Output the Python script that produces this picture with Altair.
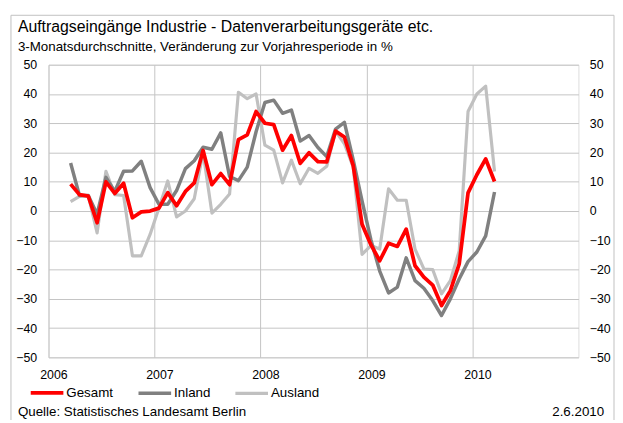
import altair as alt
import pandas as pd

FONT = "Liberation Sans"

TITLE = "Auftragseingänge Industrie - Datenverarbeitungsgeräte etc."
SUBTITLE = "3-Monatsdurchschnitte, Veränderung zur Vorjahresperiode in %"
SOURCE = "Quelle: Statistisches Landesamt Berlin"
DATE = "2.6.2010"

series_names = ["Gesamt", "Inland", "Ausland"]
series_colors = ["#ff0000", "#808080", "#c0c0c0"]
series_widths = [3.8, 3.2, 3.2]

year_ticks = [2006, 2007, 2008, 2009, 2010]
y_ticks = [-50, -40, -30, -20, -10, 0, 10, 20, 30, 40, 50]

# monthly observations Mar 2006 .. Mar 2010
months = [(y, m) for y in range(2006, 2011) for m in range(1, 13)
          if (2006, 3) <= (y, m) <= (2010, 3)]

gesamt = [9.2, 5.6, 5.1, -4.0, 10.0, 6.0, 9.5, -2.3, -0.3, 0.0,
          1.0, 6.3, 1.8, 6.7, 9.6, 20.7, 9.0, 12.8, 9.0, 24.4, 26.0, 34.0,
          30.0, 29.5, 20.8, 25.8, 16.3, 19.9, 16.9, 16.8, 27.3, 25.3, 15.5, -4.5,
          -11.5, -17.0, -11.0, -12.1, -6.2, -18.7, -22.6, -25.3, -32.3, -27.2, -18.1, 6.2,
          12.4, 17.8, 10.1]
inland = [16.4, 5.3, 5.3, -1.1, 11.5, 6.7, 13.6, 13.7, 17.0, 8.0,
          2.3, 2.3, 7.0, 14.5, 17.2, 21.8, 21.1, 26.7, 11.8, 10.4, 15.0, 27.1,
          37.1, 37.9, 33.4, 34.5, 23.9, 25.8, 21.7, 18.6, 28.0, 30.3, 17.5, 3.5,
          -9.8, -20.5, -28.0, -26.0, -16.0, -23.8, -26.4, -30.6, -35.7, -30.0, -23.2, -17.3,
          -14.0, -8.5, 6.5]
ausland = [3.2, 5.0, 5.3, -7.5, 13.6, 5.6, 5.3, -15.3, -15.3, -8.0,
           1.0, 10.3, -2.0, 0.0, 4.2, 20.0, -0.7, 2.3, 5.8, 40.6, 38.4, 40.0,
           22.5, 20.8, 9.6, 17.4, 9.3, 14.6, 12.9, 15.3, 27.3, 23.0, 15.0, -14.8,
           -11.8, -13.0, 7.6, 3.7, 3.7, -13.0, -19.8, -20.0, -28.3, -23.8, -13.6, 34.0,
           40.0, 42.7, 13.5]

rows = []
# drawing order: Ausland, Inland, Gesamt (Gesamt on top)
for name, vals in [("Ausland", ausland), ("Inland", inland), ("Gesamt", gesamt)]:
    for (y, m), v in zip(months, vals):
        rows.append({"t": y + (m - 0.5) / 12.0, "v": v, "series": name})
df = pd.DataFrame(rows)

xscale = alt.Scale(domain=[2006, 2011], nice=False, zero=False)
yscale = alt.Scale(domain=[-50, 50], nice=False, zero=False)

x_axis = alt.Axis(values=year_ticks, format="d", title=None, grid=True,
                  ticks=False, domain=False, labelOffset=5, labelPadding=11,
                  labelFlush=False, labelOverlap=False,
                  labelFontSize=12.5, labelFont=FONT, labelColor="#000000",
                  gridColor="#c4c4c4", gridWidth=1)

lines = alt.Chart(df).mark_line(strokeJoin="round", strokeCap="butt").encode(
    x=alt.X("t:Q", scale=xscale, axis=x_axis),
    y=alt.Y("v:Q", scale=yscale,
            axis=alt.Axis(values=y_ticks, title=None, orient="left", grid=True,
                          ticks=False, domain=False, labelPadding=12,
                          labelFlush=False,
                          labelFontSize=12.5, labelFont=FONT, labelColor="#000000",
                          gridColor="#c4c4c4", gridWidth=1)),
    color=alt.Color("series:N",
                    scale=alt.Scale(domain=series_names, range=series_colors),
                    legend=alt.Legend(orient="none", legendX=-20, legendY=313,
                                      direction="horizontal", title=None,
                                      symbolType="stroke", symbolSize=1089,
                                      symbolStrokeWidth=3.5, labelFontSize=13.5,
                                      labelFont=FONT, labelColor="#000000",
                                      columnPadding=18, labelOffset=1, padding=0)),
    strokeWidth=alt.StrokeWidth("series:N",
                                scale=alt.Scale(domain=series_names, range=series_widths),
                                legend=None),
)

right_axis = alt.Chart(df).mark_point(opacity=0).encode(
    x=alt.X("t:Q", scale=xscale, axis=x_axis),
    y=alt.Y("v:Q", scale=yscale,
            axis=alt.Axis(values=y_ticks, title=None, orient="right", grid=False,
                          ticks=False, domain=False, labelPadding=11,
                          labelFlush=False,
                          labelFontSize=12.5, labelFont=FONT, labelColor="#000000")),
)

one = pd.DataFrame({"a": [0]})

frame = alt.Chart(one).mark_rect(fill="transparent", stroke="#c0c0c0", strokeWidth=1).encode(
    x=alt.value(-38), x2=alt.value(572), y=alt.value(-50), y2=alt.value(390)
)

title_txt = alt.Chart(pd.DataFrame({"s": [TITLE]})).mark_text(
    align="left", baseline="alphabetic", fontSize=16, font=FONT, color="#000000"
).encode(text="s:N", x=alt.value(-31), y=alt.value(-33))

subtitle_txt = alt.Chart(pd.DataFrame({"s": [SUBTITLE]})).mark_text(
    align="left", baseline="alphabetic", fontSize=13.5, font=FONT, color="#000000"
).encode(text="s:N", x=alt.value(-31), y=alt.value(-14))

source_txt = alt.Chart(pd.DataFrame({"s": [SOURCE]})).mark_text(
    align="left", baseline="middle", fontSize=13.5, font=FONT, color="#000000"
).encode(text="s:N", x=alt.value(-31), y=alt.value(351))

date_txt = alt.Chart(pd.DataFrame({"s": [DATE]})).mark_text(
    align="right", baseline="middle", fontSize=13.5, font=FONT, color="#000000"
).encode(text="s:N", x=alt.value(562), y=alt.value(351))

chart = alt.layer(
    frame, lines, right_axis, title_txt, subtitle_txt, source_txt, date_txt
).resolve_axis(y="independent").resolve_scale(y="shared").properties(
    width=536, height=296,
    autosize=alt.AutoSizeParams(type="none"),
    padding={"left": 41, "top": 55, "right": 37, "bottom": 61},
).configure_view(
    stroke="#c0c0c0", strokeWidth=1
).configure(background="white")

chart.save("out.html", embed_options={"renderer": "svg", "actions": False})
